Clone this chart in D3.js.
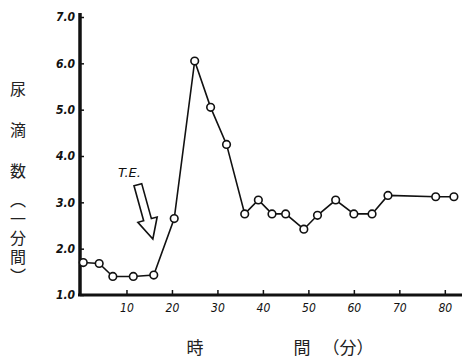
<!DOCTYPE html>
<html>
<head>
<meta charset="utf-8">
<script src="https://cdn.jsdelivr.net/npm/d3@7"></script>
<style>
body{margin:0;background:#fff;}
svg{display:block;}
.tick text{font-family:"DejaVu Sans Condensed","DejaVu Sans",sans-serif;font-style:italic;font-size:12px;fill:#111;}
</style>
</head>
<body>
<div id="chart"></div>
<script>
// minutes after start
let minutes = [0.5,4,7,11.5,16,20.5,25,28.5,32,36,39,42,45,49,52,56,60,64,67.5,78,82];
// drops per minute
let drops = [1.7,1.68,1.4,1.4,1.43,2.65,6.05,5.05,4.25,2.75,3.05,2.75,2.75,2.42,2.72,3.05,2.75,2.75,3.15,3.12,3.12];
let xTicks = [10,20,30,40,50,60,70,80];
let yTicks = [1,2,3,4,5,6,7];
let yTitle = ["尿","滴","数"];
let yUnit = "（一分間）";

let width=462, height=363;
let svg = d3.select("#chart").append("svg").attr("width",width).attr("height",height);

let x = d3.scaleLinear().domain([0,84]).range([81,463]);
let y = d3.scaleLinear().domain([1,7]).range([295,17]);

/*axes*/
let ax = svg.append("g").attr("transform","translate(0,295)")
  .call(d3.axisTop(x).tickValues(xTicks).tickSize(5).tickFormat(d3.format("d")));
ax.select(".domain").remove();
ax.selectAll(".tick line").attr("stroke","#111").attr("stroke-width",1.5);
ax.selectAll(".tick text").attr("y",8).attr("dy","0.71em").attr("font-size",13);

let ay = svg.append("g").attr("transform","translate(80,0)")
  .call(d3.axisRight(y).tickValues(yTicks).tickSize(4).tickFormat(d3.format(".1f")));
ay.select(".domain").remove();
ay.selectAll(".tick line").attr("stroke","#111").attr("stroke-width",1.5);
ay.selectAll(".tick text").attr("x",-5).attr("text-anchor","end").attr("font-weight","bold");

svg.append("line").attr("x1",78).attr("x2",462).attr("y1",295).attr("y2",295)
  .attr("stroke","#111").attr("stroke-width",3);
svg.append("line").attr("x1",80).attr("x2",80).attr("y1",13).attr("y2",296)
  .attr("stroke","#111").attr("stroke-width",3.5);

// line + points
let pts = minutes.map((m,i)=>[m,drops[i]]);
svg.append("path").datum(pts)
  .attr("d",d3.line().x(d=>x(d[0])).y(d=>y(d[1])))
  .attr("fill","none").attr("stroke","#111").attr("stroke-width",1.6);
svg.selectAll("circle").data(pts).enter().append("circle")
  .attr("cx",d=>x(d[0])).attr("cy",d=>y(d[1])).attr("r",3.8)
  .attr("fill","#fff").attr("stroke","#111").attr("stroke-width",1.6);

// T.E. annotation with hollow arrow
svg.append("text").attr("x",118).attr("y",177).text("T.E.")
  .attr("font-family","DejaVu Sans").attr("font-style","italic").attr("font-size",13).attr("fill","#111");
let tail=[x(12.5),y(3.38)], tip=[x(15.8),y(2.21)];
let ang=Math.atan2(tip[1]-tail[1],tip[0]-tail[0]);
let len=Math.hypot(tip[0]-tail[0],tip[1]-tail[1]);
let sw=4, hw=10, hl=20;
let shape=[[0,-sw],[len-hl,-sw],[len-hl,-hw],[len,0],[len-hl,hw],[len-hl,sw],[0,sw]];
svg.append("path")
  .attr("d",d3.line()(shape)+"Z")
  .attr("transform","translate("+tail[0]+","+tail[1]+") rotate("+ang*180/Math.PI+")")
  .attr("fill","#fff").attr("stroke","#111").attr("stroke-width",1.6).attr("stroke-linejoin","miter");

// titles
let yt = svg.append("g").attr("font-family","Noto Sans CJK JP").attr("font-size",16).attr("fill","#222");
let yPos=[88,129,170];
yTitle.forEach((c,i)=>{
  yt.append("text").attr("x",18).attr("y",yPos[i]).attr("text-anchor","middle")
    .attr("dominant-baseline","central").text(c);
});
yt.append("text").attr("x",18).attr("y",192).style("writing-mode","vertical-rl")
  .attr("letter-spacing",3).text(yUnit);
let xt = svg.append("g").attr("font-family","Noto Sans CJK JP").attr("font-size",17).attr("fill","#222");
xt.append("text").attr("x",195).attr("y",354).attr("text-anchor","middle").text("時");
xt.append("text").attr("x",302).attr("y",354).attr("text-anchor","middle").text("間");
xt.append("text").attr("x",348).attr("y",354).attr("text-anchor","middle").text("（分）");
</script>
</body>
</html>
